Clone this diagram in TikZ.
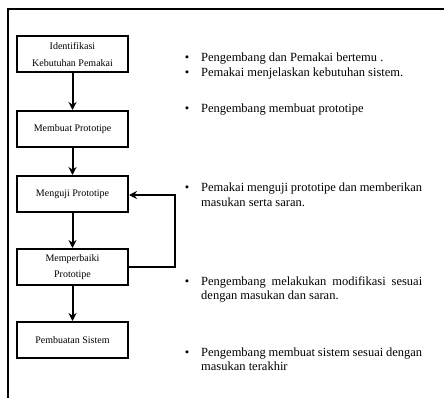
\documentclass[tikz,border=0pt]{standalone}
\usepackage{fontspec}
\setmainfont{Liberation Serif}
\usetikzlibrary{arrows.meta}
\begin{document}
\begin{tikzpicture}[x=1pt,y=-1pt,
  stepbox/.style={draw,line width=2pt,minimum width=111pt,minimum height=36pt,inner sep=0pt,
    font=\fontsize{10}{16.5}\selectfont,align=center},
  flow/.style={line width=2pt,-{Stealth[length=8pt,width=8pt]}},
  note/.style={anchor=base west,inner sep=0pt,font=\fontsize{12.5}{14.5}\selectfont},
  bul/.style={anchor=base,inner sep=0pt,font=\fontsize{12.5}{14.5}\selectfont}]
\useasboundingbox (0,0) rectangle (444,398);
\coordinate (fa) at (8,398);
\coordinate (fb) at (8,9);
\coordinate (fc) at (444,9);
\draw[line width=1.4pt] (fa) -- (fb) -- (fc);

\node[stepbox] (s1) at (72.5,54.5) {Identifikasi\\Kebutuhan Pemakai};
\node[stepbox] (s2) at (72.5,129) {Membuat Prototipe};
\node[stepbox] (s3) at (72.5,194) {Menguji Prototipe};
\node[stepbox] (s4) at (72.5,267) {Memperbaiki\\Prototipe};
\node[stepbox] (s5) at (72.5,340) {Pembuatan Sistem};

\draw[flow] (s1) -- (s2);
\draw[flow] (s2) -- (s3);
\draw[flow] (s3) -- (s4);
\draw[flow] (s4) -- (s5);
\coordinate (r1) at (175,267);
\coordinate (r2) at (175,195);
\draw[line width=1.6pt,-{Stealth[length=8pt,width=8pt]}] (s4.east) -- (r1) -- (r2) -- (s3.east |- r2);

\node[bul] (b1) at (187,62) {•};
\node[note] (t1) at (201,62) {Pengembang dan Pemakai bertemu .};
\node[bul] (b2) at (187,77) {•};
\node[note] (t2) at (201,77) {Pemakai menjelaskan kebutuhan sistem.};
\node[bul] (b3) at (187,113) {•};
\node[note] (t3) at (201,113) {Pengembang membuat prototipe};
\node[bul] (b4) at (187,192) {•};
\node[note] (t4) at (201,192) {\makebox[221pt][s]{Pemakai menguji prototipe dan memberikan}};
\node[note] (t4b) at (201,206.5) {masukan serta saran.};
\node[bul] (b5) at (187,285) {•};
\node[note] (t5) at (201,285) {\makebox[221pt][s]{Pengembang melakukan modifikasi sesuai}};
\node[note] (t5b) at (201,299.5) {dengan masukan dan saran.};
\node[bul] (b6) at (187,356) {•};
\node[note] (t6) at (201,356) {\makebox[221pt][s]{Pengembang membuat sistem sesuai dengan}};
\node[note] (t6b) at (201,370.5) {masukan terakhir};
\end{tikzpicture}
\end{document}
